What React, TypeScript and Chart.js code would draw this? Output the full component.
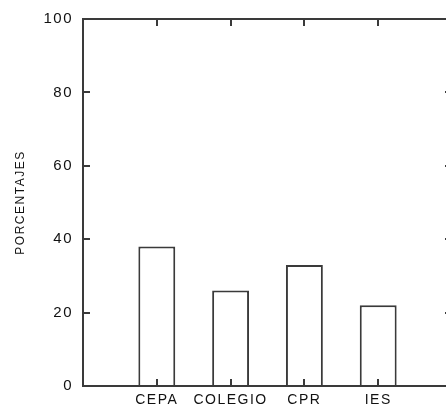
import React, { useEffect, useRef } from "react";
import { Chart, registerables } from "chart.js";

Chart.register(...registerables);

const categories = ["CEPA", "COLEGIO", "CPR", "IES"];
const values = [38, 26, 33, 22];
const yTicks = [0, 20, 40, 60, 80, 100];
const yTitle = "PORCENTAJES";

const FONT = '"Liberation Sans", Arial, sans-serif';
const LINE = "#3a3a3a";
const TEXT = "#111111";

const framePlugin = {
  id: "frame",
  beforeDraw(chart: any) {
    chart.ctx.letterSpacing = "1.5px";
  },
  afterDatasetsDraw(chart: any) {
    const { ctx, chartArea, scales } = chart;
    const x = scales.x;
    const y = scales.y;
    const L = chartArea.left;
    const R = chartArea.right;
    const T = chartArea.top;
    const B = chartArea.bottom;
    const tl = 7;
    ctx.save();
    ctx.strokeStyle = LINE;
    ctx.lineWidth = 2;
    ctx.beginPath();
    ctx.moveTo(L, T);
    ctx.lineTo(R, T);
    ctx.lineTo(R, B);
    ctx.lineTo(L, B);
    ctx.closePath();
    ctx.stroke();
    ctx.beginPath();
    yTicks.forEach((v) => {
      if (v === yTicks[0] || v === yTicks[yTicks.length - 1]) return;
      const py = Math.round(y.getPixelForValue(v));
      ctx.moveTo(L, py);
      ctx.lineTo(L + tl, py);
      ctx.moveTo(R, py);
      ctx.lineTo(R - tl, py);
    });
    categories.forEach((_, i) => {
      const px = Math.round(x.getPixelForValue(i + 1));
      ctx.moveTo(px, B);
      ctx.lineTo(px, B - tl);
      ctx.moveTo(px, T);
      ctx.lineTo(px, T + tl);
    });
    ctx.stroke();
    ctx.restore();
  },
};

export default function App() {
  const ref = useRef<HTMLCanvasElement | null>(null);
  useEffect(() => {
    if (!ref.current) return;
    const chart = new Chart(ref.current, {
      type: "bar",
      data: {
        datasets: [
          {
            data: categories.map((c, i) => ({ x: i + 1, y: values[i] })),
            backgroundColor: "#ffffff",
            borderColor: LINE,
            borderWidth: 2,
            categoryPercentage: 1,
            barPercentage: 0.5,
          },
        ],
      },
      options: {
        responsive: false,
        animation: false,
        layout: { padding: { left: 0, right: 8, top: 17, bottom: 0 } },
        plugins: { legend: { display: false }, tooltip: { enabled: false } },
        scales: {
          x: {
            type: "linear",
            offset: false,
            min: 0,
            max: categories.length + 1,
            grid: { display: false, drawTicks: false, offset: false },
            border: { display: false },
            afterBuildTicks: (scale: any) => {
              scale.ticks = categories.map((_, i) => ({ value: i + 1 }));
            },
            afterFit: (scale: any) => {
              scale.height = 26;
            },
            ticks: {
              autoSkip: false,
              maxRotation: 0,
              padding: 6,
              color: TEXT,
              font: { family: FONT, size: 14 },
              callback: (v: any) => categories[Number(v) - 1] ?? "",
            },
          },
          y: {
            min: yTicks[0],
            max: yTicks[yTicks.length - 1],
            grid: { display: false, drawTicks: false },
            border: { display: false },
            afterBuildTicks: (scale: any) => {
              scale.ticks = yTicks.map((v) => ({ value: v }));
            },
            afterFit: (scale: any) => {
              scale.width = 83;
            },
            ticks: {
              padding: 10,
              color: TEXT,
              font: { family: FONT, size: 15 },
            },
            title: {
              display: true,
              text: yTitle,
              color: TEXT,
              font: { family: FONT, size: 12 },
              padding: { top: 13, bottom: 0 },
            },
          },
        },
      },
      plugins: [framePlugin],
    } as any);
    return () => chart.destroy();
  }, []);
  return (
    <div
      style={{
        position: "fixed",
        left: 0,
        top: 0,
        width: 446,
        height: 412,
        overflow: "hidden",
        background: "#fff",
      }}
    >
      <canvas ref={ref} width={460} height={412} style={{ width: 460, height: 412, display: "block" }} />
    </div>
  );
}
